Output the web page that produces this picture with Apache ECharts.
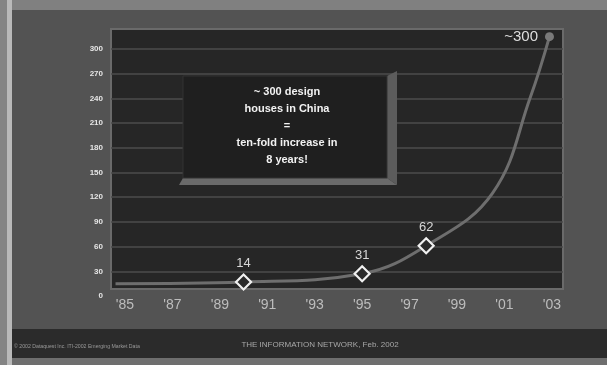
<!DOCTYPE html>
<html><head><meta charset="utf-8">
<script src="https://cdn.jsdelivr.net/npm/echarts@6/dist/echarts.min.js"></script>
<style>html,body{margin:0;padding:0;background:#535353;}#c{width:607px;height:365px;}</style>
</head><body><div id="c"></div>
<script>
// Curve: year, number of design houses
const years = [1984.6, 1990, 1995, 1997.7, 2000.5, 2002.1, 2002.9];
const values = [15, 17, 27, 61, 125, 242, 315];
// Which points carry a marker and what label they show
const pointLabels = ['', '14', '31', '62', '', '', '~300'];
const markerKind = ['none', 'diamond', 'diamond', 'diamond', 'none', 'none', 'circle'];
const xTickYears = [1985, 1987, 1989, 1991, 1993, 1995, 1997, 1999, 2001, 2003];
const yTicks = [0, 30, 60, 90, 120, 150, 180, 210, 240, 270, 300];
const boxLines = ['~ 300 design', 'houses in China', '=', 'ten-fold increase in', '8 years!'];
const footerLeft = '© 2002 Dataquest Inc. ITI-2002 Emerging Market Data';
const footerCenter = 'THE INFORMATION NETWORK, Feb. 2002';

const chart = echarts.init(document.getElementById('c'), null, {renderer: 'canvas'});
const data = years.map((y, i) => {
  const d = {value: [y, values[i]], symbol: markerKind[i]};
  if (markerKind[i] === 'diamond') {
    d.symbolSize = 15;
    d.itemStyle = {color: '#2a2a2a', borderColor: '#f0f0f0', borderWidth: 2.2};
    d.label = {show: true, position: 'top', distance: 3, formatter: pointLabels[i], color: '#d8d8d8', fontSize: 13, fontFamily: 'Liberation Sans'};
  } else if (markerKind[i] === 'circle') {
    d.symbolSize = 9;
    d.itemStyle = {color: '#7a7a7a', borderWidth: 0};
    d.label = {show: true, position: 'left', distance: 7, formatter: pointLabels[i], color: '#dedede', fontSize: 15, fontFamily: 'Liberation Sans'};
  }
  return d;
});

const gridColors = yTicks.map((t, i) => i === 0 ? 'rgba(0,0,0,0)' : '#4d4d4d');

chart.setOption({
  animation: false,
  backgroundColor: '#535353',
  grid: {left: 111, right: 44, top: 49, bottom: 69},
  xAxis: {
    type: 'value', min: 1984.41, max: 2003.47,
    axisLine: {show: false}, axisTick: {show: false}, splitLine: {show: false},
    axisLabel: {
      customValues: xTickYears, margin: 2, color: '#bdbdbd', fontSize: 14, fontFamily: 'Liberation Sans',
      formatter: v => "'" + String(Math.round(v)).slice(2)
    }
  },
  yAxis: {
    type: 'value', min: 0, max: 300, interval: 30,
    axisLine: {show: false}, axisTick: {show: false},
    splitLine: {show: true, lineStyle: {color: gridColors, width: 1.5}},
    axisLabel: {margin: 8, color: '#e6e6e6', fontSize: 8, fontWeight: 'bold', fontFamily: 'Liberation Sans'}
  },
  graphic: [
    {type: 'rect', z: -10, silent: true, shape: {x: 0, y: 0, width: 7, height: 365}, style: {fill: '#848484'}},
    {type: 'rect', z: -10, silent: true, shape: {x: 7, y: 0, width: 5, height: 365}, style: {fill: '#b9b9b9'}},
    {type: 'rect', z: -10, silent: true, shape: {x: 12, y: 0, width: 595, height: 10}, style: {fill: '#808080'}},
    {type: 'rect', z: -10, silent: true, shape: {x: 12, y: 329, width: 595, height: 29}, style: {fill: '#2b2b2b'}},
    {type: 'rect', z: -10, silent: true, shape: {x: 12, y: 358, width: 595, height: 7}, style: {fill: '#6e6e6e'}},
    {type: 'rect', z: -5, silent: true, shape: {x: 111, y: 29, width: 452, height: 260}, style: {fill: '#262626', stroke: '#6a6a6a', lineWidth: 2}},
    {type: 'polygon', z: 50, silent: true, shape: {points: [[387, 76], [397, 71], [397, 185], [387, 178]]}, style: {fill: '#5c5c5c'}},
    {type: 'polygon', z: 50, silent: true, shape: {points: [[183, 178], [387, 178], [397, 185], [179, 185]]}, style: {fill: '#6a6a6a'}},
    {type: 'rect', z: 50, silent: true, shape: {x: 183, y: 76, width: 204, height: 102}, style: {fill: '#1f1f1f', stroke: '#333', lineWidth: 1}},
    {type: 'text', z: 51, silent: true, x: 287, y: 126, style: {
      text: boxLines.join('\n'), fill: '#f2f2f2', font: 'bold 11px "Liberation Sans"', align: 'center', verticalAlign: 'middle', lineHeight: 17
    }},
    {type: 'text', z: 51, silent: true, x: 14, y: 347, style: {text: footerLeft, fill: '#9a9a9a', font: '5.2px "Liberation Sans"', verticalAlign: 'middle'}},
    {type: 'text', z: 51, silent: true, x: 320, y: 345, style: {text: footerCenter, fill: '#a8a8a8', font: '8px "Liberation Sans"', align: 'center', verticalAlign: 'middle'}}
  ],
  series: [{
    type: 'line', smooth: 0.4, data: data, z: 5, clip: false,
    lineStyle: {color: '#6e6e6e', width: 3},
    itemStyle: {color: '#6e6e6e'},
    label: {show: false}
  }]
});
</script></body></html>
